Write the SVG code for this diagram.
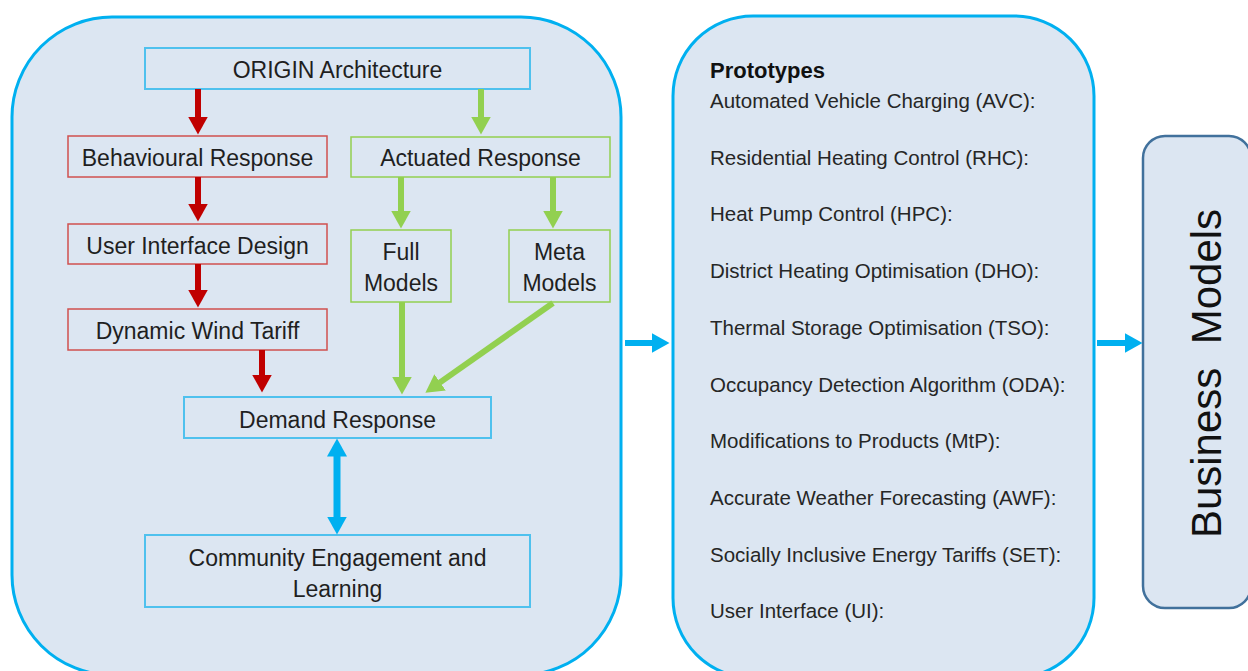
<svg xmlns="http://www.w3.org/2000/svg" width="1248" height="671" viewBox="0 0 1248 671">
  <style>
    .panel { fill: #DCE6F2; stroke: #00B0F0; stroke-width: 3; }
    .box-blue { fill: none; stroke: #4FC1EE; stroke-width: 2; }
    .box-red { fill: none; stroke: #D0504F; stroke-width: 1.5; }
    .box-green { fill: none; stroke: #92D050; stroke-width: 1.5; }
    .lbl { font-family: "Liberation Sans", Arial, sans-serif; font-size: 23px; fill: #1F1F1F; text-anchor: middle; }
    .item { font-family: "Liberation Sans", Arial, sans-serif; font-size: 20.5px; fill: #262626; }
    .head { font-family: "Liberation Sans", Arial, sans-serif; font-size: 22px; font-weight: bold; fill: #111; }
    .big { font-family: "Liberation Sans", Arial, sans-serif; font-size: 42px; fill: #111; text-anchor: middle; white-space: pre; }
    .a-red { stroke: #C00000; stroke-width: 6; fill: none; marker-end: url(#hRed); }
    .a-green { stroke: #92D050; stroke-width: 6; fill: none; marker-end: url(#hGreen); }
    .a-blue { stroke: #00B0F0; stroke-width: 6; fill: none; marker-end: url(#hBlue); }
    .a-both { stroke: #00B0F0; stroke-width: 7; fill: none; marker-start: url(#hBlue); marker-end: url(#hBlue); }
  </style>
  <defs>
    <marker id="hRed" markerUnits="userSpaceOnUse" markerWidth="19" markerHeight="20" refX="0.5" refY="10" orient="auto-start-reverse">
      <path d="M0,0 L18,10 L0,20 Z" fill="#C00000"/>
    </marker>
    <marker id="hGreen" markerUnits="userSpaceOnUse" markerWidth="19" markerHeight="20" refX="0.5" refY="10" orient="auto-start-reverse">
      <path d="M0,0 L18,10 L0,20 Z" fill="#92D050"/>
    </marker>
    <marker id="hBlue" markerUnits="userSpaceOnUse" markerWidth="19" markerHeight="20" refX="0.5" refY="10" orient="auto-start-reverse">
      <path d="M0,0 L18,10 L0,20 Z" fill="#00B0F0"/>
    </marker>
  </defs>

  <!-- background panels -->
  <g id="panel-architecture">
    <rect class="panel" x="12" y="17" width="609" height="658" rx="100" ry="100"/>
  </g>
  <g id="panel-prototypes">
    <rect class="panel" x="673" y="16" width="421" height="662" rx="80" ry="80"/>
    <text class="head" x="710" y="78">Prototypes</text>
    <text class="item" x="710" y="108">Automated Vehicle Charging (AVC):</text>
    <text class="item" x="710" y="165">Residential Heating Control (RHC):</text>
    <text class="item" x="710" y="221">Heat Pump Control (HPC):</text>
    <text class="item" x="710" y="278">District Heating Optimisation (DHO):</text>
    <text class="item" x="710" y="335">Thermal Storage Optimisation (TSO):</text>
    <text class="item" x="710" y="392">Occupancy Detection Algorithm (ODA):</text>
    <text class="item" x="710" y="448">Modifications to Products (MtP):</text>
    <text class="item" x="710" y="505">Accurate Weather Forecasting (AWF):</text>
    <text class="item" x="710" y="562">Socially Inclusive Energy Tariffs (SET):</text>
    <text class="item" x="710" y="618">User Interface (UI):</text>
  </g>
  <g id="business-models">
    <rect x="1143" y="136" width="108" height="472" rx="22" ry="22" fill="#DCE6F2" stroke="#41719C" stroke-width="2.5"/>
    <text class="big" transform="translate(1221,373.5) rotate(-90)" x="0" y="0">Business  Models</text>
  </g>

  <!-- nodes -->
  <g id="origin-architecture">
    <rect class="box-blue" x="145" y="48" width="385" height="41"/>
    <text class="lbl" x="337.5" y="78">ORIGIN Architecture</text>
  </g>
  <g id="behavioural-response">
    <rect class="box-red" x="68" y="136" width="259" height="41"/>
    <text class="lbl" x="197.5" y="166">Behavioural Response</text>
  </g>
  <g id="actuated-response">
    <rect class="box-green" x="351" y="137" width="259" height="40"/>
    <text class="lbl" x="480.5" y="166">Actuated Response</text>
  </g>
  <g id="user-interface-design">
    <rect class="box-red" x="68" y="224" width="259" height="40"/>
    <text class="lbl" x="197.5" y="254">User Interface Design</text>
  </g>
  <g id="full-models">
    <rect class="box-green" x="351" y="230" width="100" height="72"/>
    <text class="lbl" x="401" y="260">Full</text>
    <text class="lbl" x="401" y="291">Models</text>
  </g>
  <g id="meta-models">
    <rect class="box-green" x="509" y="230" width="101" height="72"/>
    <text class="lbl" x="559.5" y="260">Meta</text>
    <text class="lbl" x="559.5" y="291">Models</text>
  </g>
  <g id="dynamic-wind-tariff">
    <rect class="box-red" x="68" y="309" width="259" height="41"/>
    <text class="lbl" x="197.5" y="339">Dynamic Wind Tariff</text>
  </g>
  <g id="demand-response">
    <rect class="box-blue" x="184" y="397" width="307" height="41"/>
    <text class="lbl" x="337.5" y="428">Demand Response</text>
  </g>
  <g id="community-engagement">
    <rect class="box-blue" x="145" y="535" width="385" height="72"/>
    <text class="lbl" x="337.5" y="566">Community Engagement and</text>
    <text class="lbl" x="337.5" y="597">Learning</text>
  </g>

  <!-- connectors -->
  <g id="connectors">
    <line class="a-red" x1="198" y1="89" x2="198" y2="117"/>
    <line class="a-red" x1="198" y1="177" x2="198" y2="204"/>
    <line class="a-red" x1="198" y1="264" x2="198" y2="290"/>
    <line class="a-red" x1="262" y1="350" x2="262" y2="375"/>
    <line class="a-green" x1="481" y1="89" x2="481" y2="117"/>
    <line class="a-green" x1="401" y1="177" x2="401" y2="211"/>
    <line class="a-green" x1="553" y1="177" x2="553" y2="211"/>
    <line class="a-green" x1="402" y1="302" x2="402" y2="377"/>
    <line class="a-green" x1="553" y1="303" x2="439.7" y2="382.6"/>
    <line class="a-both" x1="337" y1="456" x2="337" y2="517"/>
    <line class="a-blue" x1="625" y1="343" x2="652" y2="343"/>
    <line class="a-blue" x1="1097" y1="343" x2="1125" y2="343"/>
  </g>
</svg>
